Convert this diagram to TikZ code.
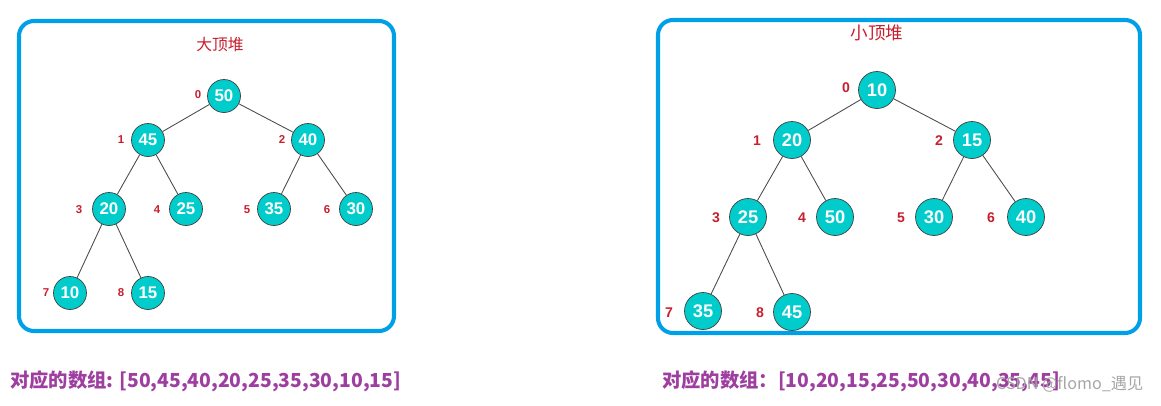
\documentclass[tikz,border=0pt]{standalone}
\usepackage{fontspec}
\setmainfont{Liberation Sans}
\newfontfamily\cjk{Noto Sans CJK SC}
\usepackage{xcolor}
\usetikzlibrary{positioning}

\definecolor{heapcyan}{RGB}{0,204,204}
\definecolor{boxblue}{RGB}{0,160,233}
\definecolor{idxred}{RGB}{200,30,45}
\definecolor{arrpurple}{RGB}{158,62,160}

\begin{document}
\begin{tikzpicture}[x=0.02cm, y=-0.02cm,
    heapbox/.style={draw=boxblue, line width=2.3pt, rounded corners=0.3cm},
    lnode/.style={circle, draw=black!75, line width=0.4pt, fill=heapcyan, inner sep=0pt,
        minimum size=0.66cm, text=white, font=\bfseries\fontsize{9.6}{10}\selectfont},
    rnode/.style={lnode, minimum size=0.74cm, font=\bfseries\fontsize{10.4}{11}\selectfont},
    lidx/.style={text=idxred, font=\bfseries\fontsize{6.5}{7}\selectfont},
    ridx/.style={text=idxred, font=\bfseries\fontsize{8}{9}\selectfont},
    heaptitle/.style={text=idxred, font=\cjk\fontsize{9}{10}\selectfont},
    arrtext/.style={anchor=west, text=arrpurple, font=\cjk\bfseries\fontsize{11}{12}\selectfont},
    edge/.style={draw=black!70, line width=0.5pt}]
\useasboundingbox (0,0) rectangle (1161,406);

% Max heap
\draw[heapbox] (19,21) rectangle (394,331);
\node[heaptitle] (ltitle) at (220,45) {大顶堆};
\foreach \n/\x/\y/\v in {0/224/96/50, 1/148/140/45, 2/308/140/40,
    3/109/209/20, 4/186/209/25, 5/274/209/35, 6/356/209/30,
    7/70/293/10, 8/148/293/15} {
    \node[lnode] (l\n) at (\x,\y) {\v};
}
\foreach \n/\x/\y in {0/198/95, 1/121/140, 2/282/140, 3/79/210, 4/157/210,
    5/247/210, 6/327/210, 7/46/293, 8/121/293} {
    \node[lidx] (li\n) at (\x,\y) {\n};
}
\foreach \a/\b in {0/1, 0/2, 1/3, 1/4, 2/5, 2/6, 3/7, 3/8} {
    \draw[edge] (l\a) -- (l\b);
}
\node[arrtext] (larr) at (4,381) {对应的数组: [50,45,40,20,25,35,30,10,15]};

% Min heap
\draw[heapbox] (658,20) rectangle (1140,333);
\node[heaptitle, font=\cjk\fontsize{10}{11}\selectfont] (rtitle) at (877,33) {小顶堆};
\foreach \n/\x/\y/\v in {0/877/90/10, 1/792/140/20, 2/972/140/15,
    3/748/217/25, 4/835/217/50, 5/934/217/30, 6/1026/217/40,
    7/703/311/35, 8/792/312/45} {
    \node[rnode] (r\n) at (\x,\y) {\v};
}
\foreach \n/\x/\y in {0/846/88, 1/757/141, 2/939/141, 3/716/218, 4/802/218,
    5/901/218, 6/991/218, 7/669/313, 8/760/313} {
    \node[ridx] (ri\n) at (\x,\y) {\n};
}
\foreach \a/\b in {0/1, 0/2, 1/3, 1/4, 2/5, 2/6, 3/7, 3/8} {
    \draw[edge] (r\a) -- (r\b);
}
\node[arrtext] (rarr) at (656,381) {对应的数组：[10,20,15,25,50,30,40,35,45]};
\node[anchor=west, text=black!35, font=\cjk\fontsize{9.2}{10}\selectfont] (mark) at (990,384) {CSDN @flomo\_遇见};
\end{tikzpicture}
\end{document}
